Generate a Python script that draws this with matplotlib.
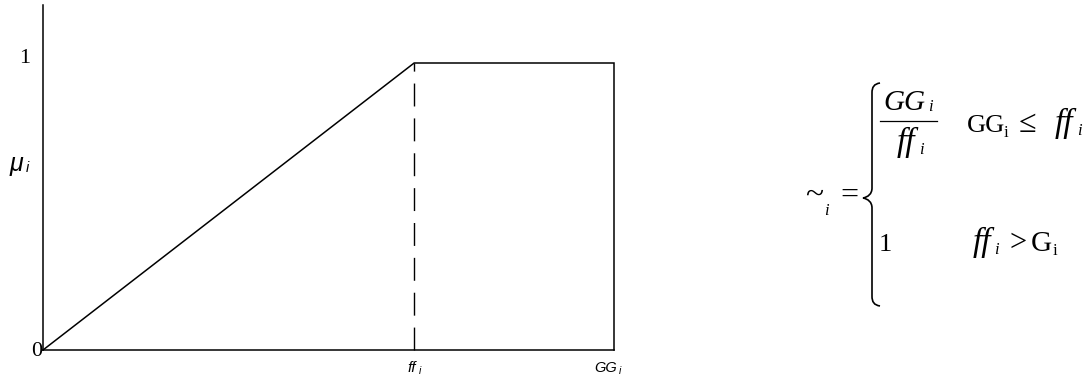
import matplotlib
matplotlib.use("Agg")
import matplotlib.pyplot as plt
from matplotlib.path import Path
from matplotlib.patches import PathPatch
from matplotlib.transforms import offset_copy

# data: membership function breakpoints
ff_i = 0.65
GG_i = 1.0
x_vals = [0.0, ff_i, GG_i, GG_i]
y_vals = [0.0, 1.0, 1.0, 0.0]
dash_x = [ff_i, ff_i]
dash_y = [0.0, 1.0]
ytick_vals = [0, 1]
ytick_labels = ["0", "1"]
xtick_vals = [ff_i, GG_i]
xtick_labels = ["ff", "GG"]

W, H = 1087, 379
fig = plt.figure(figsize=(W / 100, H / 100), dpi=100)

left, right, bottom, top = 43, 614, 350, 5
ax = fig.add_axes([left / W, 1 - bottom / H, (right - left) / W, (bottom - top) / H])
ax.set_xlim(0, GG_i)
ax.set_ylim(0, (bottom - top) / (bottom - 63))
ax.plot(x_vals, y_vals, color='black', lw=1.1, solid_joinstyle='miter', clip_on=False)
ax.plot(dash_x, dash_y, color='black', lw=1.0, dashes=(16.5, 8.6), clip_on=False)
for s in ['top', 'right']:
    ax.spines[s].set_visible(False)
for s in ['left', 'bottom']:
    ax.spines[s].set_linewidth(1.1)
ax.tick_params(length=0)
ax.set_xticks([])
ax.set_yticks([])

SERIF = ['Liberation Serif', 'DejaVu Serif']
SANS = ['Liberation Sans', 'DejaVu Sans']

def off(tr, dx, dy):
    return offset_copy(tr, fig=fig, x=dx, y=dy, units='dots')

# y tick labels (Times-like)
ytr = ax.get_yaxis_transform()
ax.text(0, ytick_vals[0], ytick_labels[0], ha='right', va='center', fontsize=16,
        family=SERIF, transform=off(ytr, -1, -1))
ax.text(0, ytick_vals[1], ytick_labels[1], ha='right', va='center', fontsize=16,
        family=SERIF, transform=off(ytr, -13, 4))

# x tick labels (Arial italic)
xtr = ax.get_xaxis_transform()
ax.text(xtick_vals[0], 0, xtick_labels[0], ha='center', va='center', fontsize=11,
        family=SANS, style='italic', transform=off(xtr, -2, -18))
ax.text(xtick_vals[0], 0, "i", ha='center', va='center', fontsize=7.5,
        family=SANS, style='italic', transform=off(xtr, 5.5, -21))
ax.text(xtick_vals[1], 0, xtick_labels[1], ha='center', va='center', fontsize=10.5,
        family=SANS, style='italic', transform=off(xtr, -8, -18))
ax.text(xtick_vals[1], 0, "i", ha='center', va='center', fontsize=7.5,
        family=SANS, style='italic', transform=off(xtr, 5.5, -21))

# overlay for annotation in pixel coordinates
ov = fig.add_axes([0, 0, 1, 1])
ov.set_xlim(0, W)
ov.set_ylim(H, 0)
ov.axis('off')

# y-axis label mu_i
ov.text(16, 164, "\u03bc", ha='center', va='center', fontsize=18, family=SANS, style='italic')
ov.text(27.5, 168, "i", ha='center', va='center', fontsize=10.5, family=SANS, style='italic')

# equation tokens
fs = 19
def tok(x, y, s, size=fs, style='normal', va='baseline'):
    ov.text(x, y, s, ha='center', va=va, fontsize=size, family=SERIF, style=style)

tok(814, 204, "~", size=24)
tok(826.5, 215, "i", size=12, style='italic')
tok(849, 196.5, "=", size=23, va='center')

# fraction
tok(904.5, 110, "GG", size=21, style='italic')
tok(930.5, 111, "i", size=12, style='italic')
ov.plot([880, 937], [121, 121], color='black', lw=0.9)
tok(906, 151, "ff", size=24, style='italic')
tok(921.5, 154, "i", size=12, style='italic')

# first condition
tok(985.5, 132, "GG")
tok(1006, 137, "i", size=12)
tok(1027, 132, "\u2264", size=23)
tok(1064, 132, "ff", size=24, style='italic')
tok(1079.5, 135, "i", size=12, style='italic')

# second case
tok(885, 251, "1")
tok(981.5, 251, "ff", size=24, style='italic')
tok(996, 254, "i", size=12, style='italic')
tok(1018.5, 251, ">", size=22)
tok(1041, 251, "G", size=21)
tok(1055, 255, "i", size=12)

# curly brace
xv, xt = 872, 863
y0, ym, y1 = 83, 198, 306
verts = [(880, y0), (874, y0 + 1), (xv, y0 + 4), (xv, y0 + 10),
         (xv, ym - 10),
         (xv, ym - 4), (868, ym - 1), (xt, ym),
         (868, ym + 1), (xv, ym + 4), (xv, ym + 10),
         (xv, y1 - 10),
         (xv, y1 - 4), (874, y1 - 1), (880, y1)]
codes = [Path.MOVETO, Path.CURVE4, Path.CURVE4, Path.CURVE4,
         Path.LINETO,
         Path.CURVE4, Path.CURVE4, Path.CURVE4,
         Path.CURVE4, Path.CURVE4, Path.CURVE4,
         Path.LINETO,
         Path.CURVE4, Path.CURVE4, Path.CURVE4]
ov.add_patch(PathPatch(Path(verts, codes), fill=False, lw=1.2, edgecolor='black'))

fig.savefig("out.png", dpi=100)
